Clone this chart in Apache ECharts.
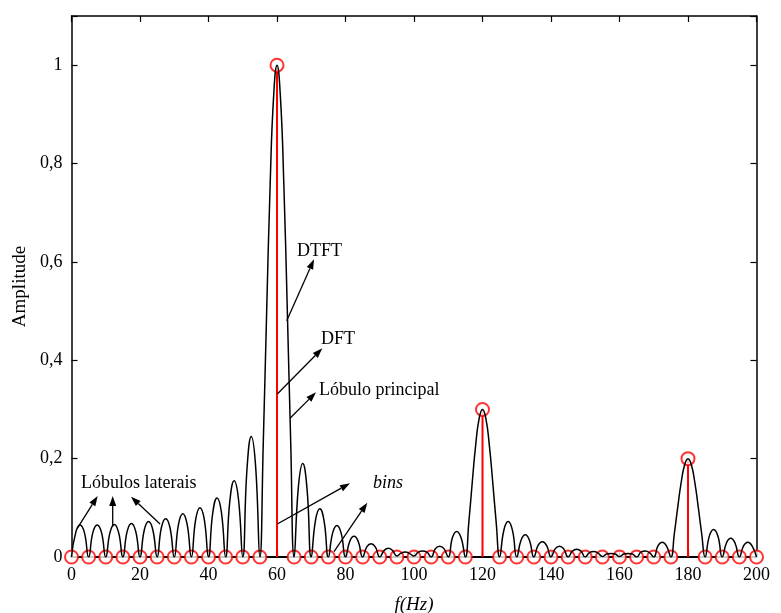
<!DOCTYPE html>
<html>
<head>
<meta charset="utf-8">
<script src="https://cdn.jsdelivr.net/npm/echarts@6/dist/echarts.min.js"></script>
<style>
  html, body { margin: 0; padding: 0; background: #fff; }
  #chart { width: 781px; height: 613px; }
</style>
</head>
<body>
<div id="chart"></div>
<script>
// DTFT curve (frequency in Hz, amplitude)
var dtftF = [
  0, 1.25, 2.5, 3.75, 5, 6.25, 7.5, 8.75, 10, 11.25, 12.5, 13.75,
  15, 16.25, 17.5, 18.75, 20, 21.25, 22.5, 23.75, 25, 26.25, 27.5, 28.75,
  30, 31.25, 32.5, 33.75, 35, 36.25, 37.5, 38.75, 40, 41.25, 42.5, 43.75,
  45, 46.25, 47.5, 48.75, 50, 51.25, 52.5, 53.75,
  55, 56, 57, 58, 59, 60, 61, 62, 63, 64,
  65, 66.25, 67.5, 68.75, 70, 71.25, 72.5, 73.75, 75, 76.25, 77.5, 78.75,
  80, 81.25, 82.5, 83.75, 85, 86.25, 87.5, 88.75, 90, 91.25, 92.5, 93.75,
  95, 96.25, 97.5, 98.75, 100, 101.25, 102.5, 103.75, 105, 106.25, 107.5, 108.75,
  110, 111.25, 112.5, 113.75,
  115, 116, 117, 118, 119, 120, 121, 122, 123, 124,
  125, 126.25, 127.5, 128.75, 130, 131.25, 132.5, 133.75, 135, 136.25, 137.5, 138.75,
  140, 141.25, 142.5, 143.75, 145, 146.25, 147.5, 148.75, 150, 151.25, 152.5, 153.75,
  155, 156.25, 157.5, 158.75, 160, 161.25, 162.5, 163.75, 165, 166.25, 167.5, 168.75,
  170, 171.25, 172.5, 173.75,
  175, 176, 177, 178, 179, 180, 181, 182, 183, 184,
  185, 186.25, 187.5, 188.75, 190, 191.25, 192.5, 193.75, 195, 196.25, 197.5, 198.75, 200
];
var dtftA = [
  0, 0.05, 0.065, 0.05, 0, 0.05, 0.065, 0.05, 0, 0.05, 0.066, 0.05,
  0, 0.052, 0.068, 0.052, 0, 0.055, 0.072, 0.055, 0, 0.06, 0.078, 0.06,
  0, 0.067, 0.088, 0.067, 0, 0.076, 0.1, 0.077, 0, 0.09, 0.12, 0.092,
  0, 0.115, 0.155, 0.118, 0, 0.18, 0.245, 0.185,
  0, 0.234, 0.504, 0.757, 0.935, 1, 0.935, 0.757, 0.504, 0.234,
  0, 0.143, 0.19, 0.14, 0, 0.075, 0.098, 0.073, 0, 0.049, 0.064, 0.048,
  0, 0.032, 0.042, 0.031, 0, 0.021, 0.027, 0.02, 0, 0.013, 0.018, 0.013,
  0.002, 0.008, 0.01, 0.007, 0.002, 0.01, 0.012, 0.01, 0, 0.017, 0.022, 0.017,
  0, 0.04, 0.052, 0.039,
  0, 0.07, 0.151, 0.227, 0.281, 0.3, 0.281, 0.227, 0.151, 0.07,
  0, 0.055, 0.072, 0.054, 0, 0.034, 0.045, 0.033, 0, 0.024, 0.031, 0.023,
  0, 0.017, 0.022, 0.016, 0, 0.012, 0.016, 0.012, 0, 0.009, 0.011, 0.008,
  0.001, 0.006, 0.007, 0.006, 0.001, 0.006, 0.007, 0.006, 0, 0.01, 0.012, 0.009,
  0, 0.023, 0.03, 0.022,
  0, 0.047, 0.101, 0.151, 0.187, 0.2, 0.187, 0.151, 0.101, 0.047,
  0, 0.043, 0.056, 0.042, 0, 0.029, 0.038, 0.028, 0, 0.023, 0.03, 0.022, 0
];
// DFT bins every 5 Hz
var dftF = [0, 5, 10, 15, 20, 25, 30, 35, 40, 45, 50, 55, 60, 65, 70, 75, 80, 85, 90, 95,
  100, 105, 110, 115, 120, 125, 130, 135, 140, 145, 150, 155, 160, 165, 170, 175, 180, 185, 190, 195, 200];
var dftA = [0, 0, 0, 0, 0, 0, 0, 0, 0, 0, 0, 0, 1, 0, 0, 0, 0, 0, 0, 0,
  0, 0, 0, 0, 0.3, 0, 0, 0, 0, 0, 0, 0, 0, 0, 0, 0, 0.2, 0, 0, 0, 0];

var xTicks = { min: 0, max: 200, interval: 20 };
var yTicks = { min: 0, max: 1.1, interval: 0.2 };

var serif = '"Liberation Serif", "Times New Roman", serif';

function pairs(a, b) {
  var out = [];
  for (var i = 0; i < a.length; i++) out.push([a[i], b[i]]);
  return out;
}

function yFmt(v) {
  if (v > 1.01) return '';
  if (v === 0) return '0';
  if (Math.abs(v - 1) < 1e-9) return '1';
  return v.toFixed(1).replace('.', ',');
}

function arrow(x1, y1, x2, y2) {
  var ang = Math.atan2(y2 - y1, x2 - x1), L = 10, W = 3.5;
  var bx = x2 - L * Math.cos(ang), by = y2 - L * Math.sin(ang);
  var px = -Math.sin(ang) * W, py = Math.cos(ang) * W;
  return [
    { type: 'line', z: 100, shape: { x1: x1, y1: y1, x2: bx, y2: by }, style: { stroke: '#000', lineWidth: 1.3 } },
    { type: 'polygon', z: 100, shape: { points: [[x2, y2], [bx + px, by + py], [bx - px, by - py]] }, style: { fill: '#000' } }
  ];
}

function label(txt, x, y, italic) {
  return {
    type: 'text', z: 100, x: x, y: y,
    style: { text: txt, fill: '#000', font: (italic ? 'italic ' : '') + '18px ' + serif, verticalAlign: 'middle', align: 'left' }
  };
}

var graphics = [].concat(
  arrow(286.7, 320.7, 314, 259.3),
  arrow(277.3, 394, 322.3, 348.3),
  arrow(290, 418.3, 316, 392.3),
  arrow(77.3, 528.3, 97.7, 496),
  arrow(112.7, 526.7, 112.7, 496),
  arrow(160, 524, 131, 496.7),
  arrow(277.3, 524, 350, 483.3),
  arrow(334, 551.7, 367.3, 502.7),
  [
    label('DTFT', 297, 251),
    label('DFT', 321, 339),
    label('Lóbulo principal', 319, 390),
    label('Lóbulos laterais', 81, 483),
    label('bins', 373, 483, true)
  ]
);

var axisCommon = {
  axisLine: { show: true, onZero: false, lineStyle: { color: '#000', width: 1.5 } },
  axisTick: { show: true, inside: true, length: 6, lineStyle: { color: '#000', width: 1.2 } },
  splitLine: { show: false }
};

var chart = echarts.init(document.getElementById('chart'));
chart.setOption({
  animation: false,
  backgroundColor: '#fff',
  grid: { left: 71.5, right: 24.5, top: 16, bottom: 56, outerBoundsMode: 'none', containLabel: false },
  xAxis: [
    Object.assign({
      type: 'value', position: 'bottom',
      min: xTicks.min, max: xTicks.max, interval: xTicks.interval,
      name: 'f(Hz)', nameLocation: 'middle', nameGap: 38,
      nameTextStyle: { fontFamily: serif, fontSize: 19, fontStyle: 'italic', color: '#000' },
      axisLabel: { fontFamily: serif, fontSize: 18, color: '#000', margin: 9 }
    }, axisCommon, { axisLine: { show: true, onZero: false, lineStyle: { color: '#000', width: 2 } } }),
    Object.assign({
      type: 'value', position: 'top',
      min: xTicks.min, max: xTicks.max, interval: xTicks.interval,
      axisLabel: { show: false }
    }, axisCommon)
  ],
  yAxis: [
    Object.assign({
      type: 'value', position: 'left',
      min: yTicks.min, max: yTicks.max, interval: yTicks.interval,
      name: 'Amplitude', nameLocation: 'middle', nameGap: 38,
      nameTextStyle: { fontFamily: serif, fontSize: 19, color: '#000' },
      axisLabel: { fontFamily: serif, fontSize: 18, color: '#000', margin: 9, formatter: yFmt }
    }, axisCommon),
    Object.assign({
      type: 'value', position: 'right',
      min: yTicks.min, max: yTicks.max, interval: yTicks.interval,
      axisLabel: { show: false }
    }, axisCommon)
  ],
  series: [
    {
      name: 'DFT stems',
      type: 'bar',
      barWidth: 2,
      z: 2,
      itemStyle: { color: '#ff0000' },
      data: pairs(dftF, dftA)
    },
    {
      name: 'DFT',
      type: 'scatter',
      z: 3,
      symbol: 'emptyCircle',
      symbolSize: 13,
      itemStyle: { color: '#ff0000', borderColor: '#ff0000', borderWidth: 1.5 },
      data: pairs(dftF, dftA)
    },
    {
      name: 'DTFT',
      type: 'line',
      z: 4,
      smooth: 0.5,
      showSymbol: false,
      lineStyle: { color: '#000', width: 1.5 },
      data: pairs(dtftF, dtftA)
    }
  ],
  graphic: graphics
});
</script>
</body>
</html>
